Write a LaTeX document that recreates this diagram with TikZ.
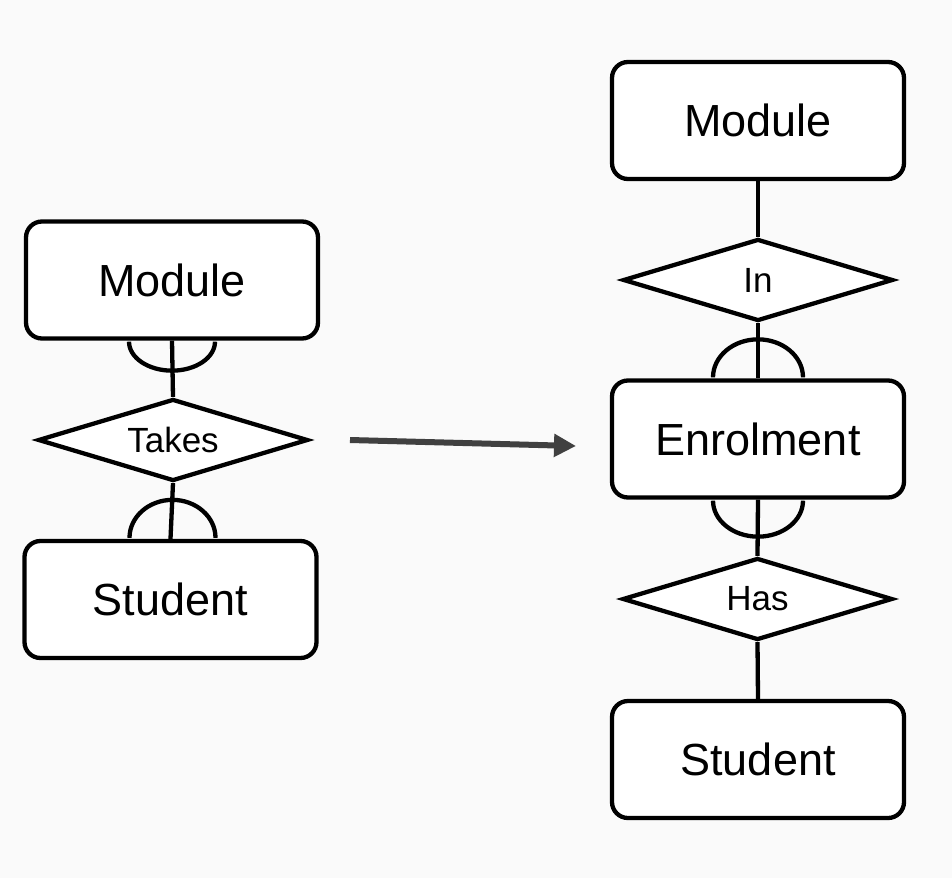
\documentclass[tikz,border=0pt]{standalone}
\usepackage{fontspec}
\setmainfont{Liberation Sans}
\usetikzlibrary{shapes.geometric,arrows.meta}
\definecolor{bgcol}{HTML}{FAFAFA}
\definecolor{arrowcol}{HTML}{404040}
\pgfdeclarelayer{canvas}
\pgfdeclarelayer{back}
\pgfsetlayers{canvas,back,main}
\tikzset{
  entity/.style={draw=black, fill=white, line width=4.3pt, rounded corners=16pt,
    minimum width=292pt, minimum height=117pt, inner sep=0pt,
    font=\fontsize{45}{52}\selectfont},
  relation/.style={draw=black, fill=white, line width=4.3pt, shape=diamond,
    aspect=3.3, minimum width=270pt, minimum height=82pt, inner sep=0pt,
    font=\fontsize{35}{40}\selectfont},
  link/.style={draw=black, line width=4.3pt},
  crow/.style={draw=black, line width=4.3pt},
  bigarrow/.style={draw=arrowcol, line width=6pt, -{Triangle[length=22pt,width=22pt]}}
}
\begin{document}
\begin{tikzpicture}[x=1pt,y=-1pt]
\begin{pgfonlayer}{canvas}
\fill[bgcol] (0,0) rectangle (952,878);
\end{pgfonlayer}
\useasboundingbox (0,0) rectangle (952,878);

% left diagram nodes
\node[entity] (lm) at (172,280) {\raisebox{-2pt}{Module}};
\node[relation] (takes) at (173,440) {Takes};
\node[entity] (ls) at (170.5,599.5) {\raisebox{-2pt}{Student}};

% right diagram nodes
\node[entity] (rm) at (758,120.5) {\raisebox{-2pt}{Module}};
\node[relation] (in) at (758,280) {\raisebox{-2pt}{In}};
\node[entity] (enr) at (758,439) {\raisebox{-2pt}{Enrolment}};
\node[relation] (has) at (757.5,599) {\raisebox{-2pt}{Has}};
\node[entity] (rs) at (758,759.5) {\raisebox{-2pt}{Student}};

\begin{pgfonlayer}{back}
\draw[link] (lm.south) -- (takes.north);
\draw[link] (takes.south) -- (ls.north);
\draw[link] (rm.south) -- (in.north);
\draw[link] (in.south) -- (enr.north);
\draw[link] (enr.south) -- (has.north);
\draw[link] (has.south) -- (rs.north);

\draw[crow] ([xshift=-43pt,yshift=-1pt]lm.south) arc[start angle=180, end angle=0, x radius=43, y radius=29];
\draw[crow] ([xshift=-41pt,yshift=1pt]ls.north) arc[start angle=180, end angle=360, x radius=43, y radius=38];
\draw[crow] ([xshift=-45pt,yshift=1pt]enr.north) arc[start angle=180, end angle=360, x radius=45, y radius=38];
\draw[crow] ([xshift=-45pt,yshift=-1pt]enr.south) arc[start angle=180, end angle=0, x radius=45, y radius=36];
\end{pgfonlayer}

% transformation arrow
\coordinate (a1) at (350,440);
\coordinate (a2) at (576,446);
\draw[bigarrow] (a1) -- (a2);
\end{tikzpicture}
\end{document}
